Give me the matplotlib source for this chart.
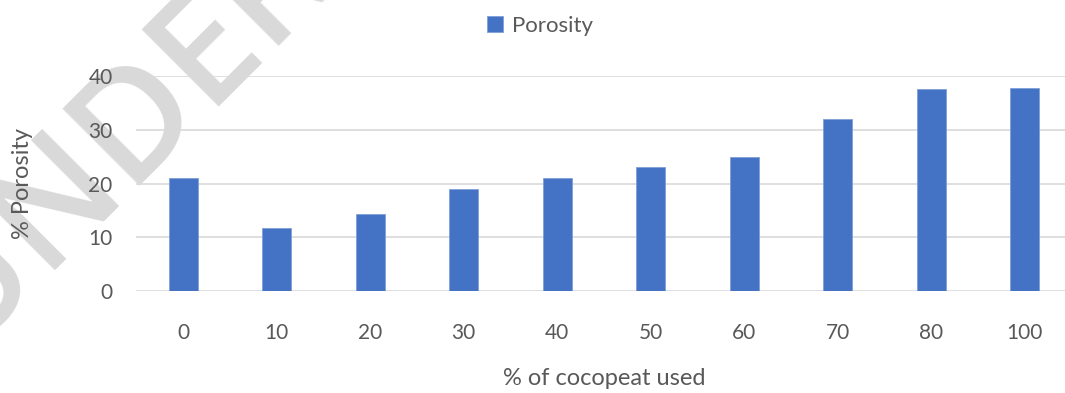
import numpy as np
import matplotlib.pyplot as plt

# porosity of the mix for each cocopeat share
cocopeat = ["0", "10", "20", "30", "40", "50", "60", "70", "80", "100"]
porosity = [21.0, 11.8, 14.3, 19.0, 21.0, 23.1, 24.9, 32.0, 37.5, 37.8]
y_ticks = [0, 10, 20, 30, 40]

plt.rcParams['font.family'] = ['Lato', 'DejaVu Sans']
text_grey = '#595959'
bar_blue = '#4472c4'

fig = plt.figure(figsize=(10.65, 3.93), dpi=100)
ax = fig.add_axes([0.128, 0.2595, 0.8783, 0.5471])
ax.set_facecolor('none')

xs = np.arange(len(cocopeat))
ax.bar(xs, porosity, width=0.31, color=bar_blue, edgecolor='#7f9fd8',
       linewidth=0.6, zorder=3, label='Porosity')

ax.set_xlim(-0.5, len(cocopeat) - 0.5)
ax.set_ylim(0, 40)
ax.set_yticks(y_ticks)
ax.set_xticks(xs)
ax.set_xticklabels(cocopeat)
ax.yaxis.grid(True, color='#d9d9d9', linewidth=1.2, zorder=0)
ax.set_axisbelow(True)
for s in ax.spines.values():
    s.set_visible(False)
ax.tick_params(axis='both', length=0, labelsize=15, labelcolor=text_grey)
ax.tick_params(axis='y', pad=17)
ax.tick_params(axis='x', pad=23)

ax.set_xlabel('% of cocopeat used', fontsize=17, color=text_grey, labelpad=18)
ax.set_ylabel('% Porosity', fontsize=17, color=text_grey)
ax.yaxis.set_label_coords(-0.110, 0.5)

leg = fig.legend(loc='center', bbox_to_anchor=(0.507, 0.935), frameon=False,
                 fontsize=16, handlelength=0.7, handleheight=0.7,
                 handletextpad=0.4, labelcolor=text_grey)

# review watermark in the background
fig.text(-0.033, 0.084, 'UNDER PEER REVIEW', fontsize=110,
         family=['Open Sans', 'DejaVu Sans'], fontweight='semibold',
         color='#d9d9d9', rotation=45, rotation_mode='anchor',
         ha='left', va='baseline', zorder=-5,
         transform=fig.transFigure)

fig.savefig('out.png', dpi=100)
